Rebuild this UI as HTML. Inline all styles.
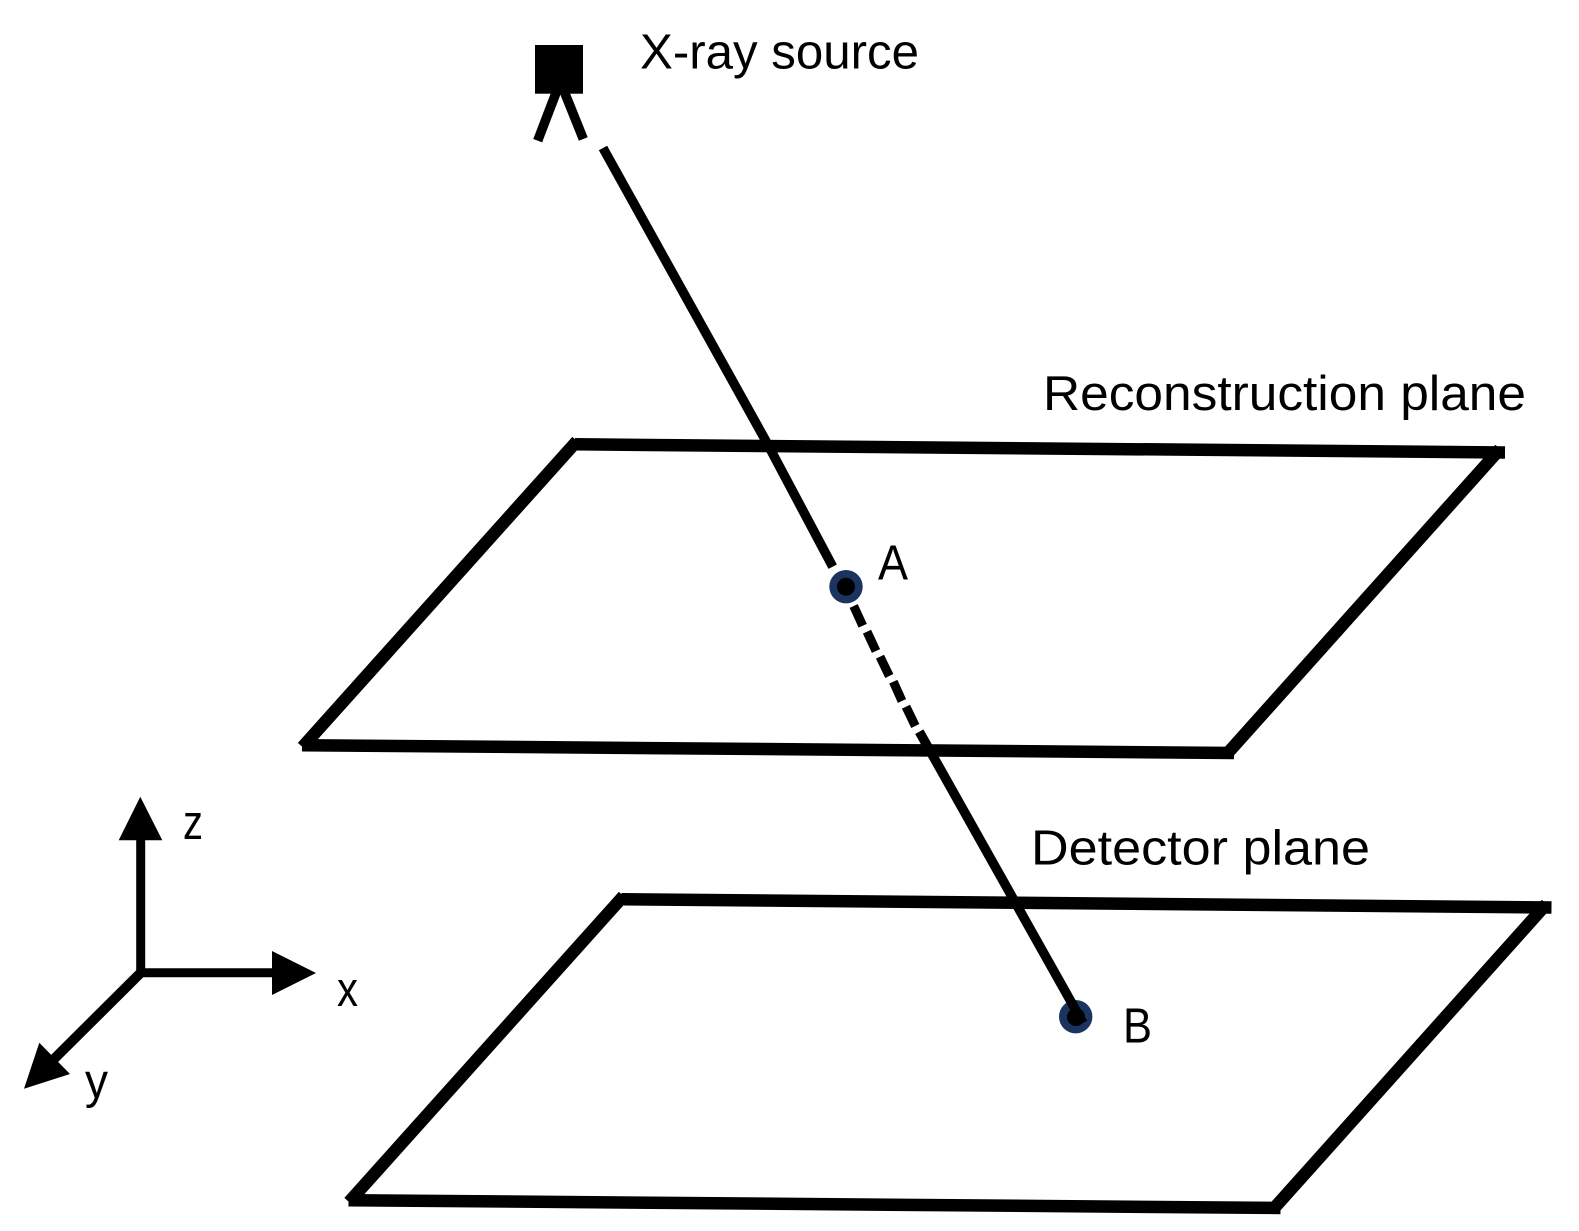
<!DOCTYPE html>
<html>
<head>
<meta charset="utf-8">
<style>
html,body{margin:0;padding:0;background:#fff;}
svg{display:block;}
text{font-family:"Liberation Sans",sans-serif;font-size:49px;fill:#000;}
</style>
</head>
<body>
<svg width="1579" height="1231" viewBox="0 0 1579 1231" xmlns="http://www.w3.org/2000/svg">
<rect width="1579" height="1231" fill="#fff"/>
<!-- reconstruction plane -->
<g stroke="#000" stroke-width="12.5">
<line x1="575" y1="444.3" x2="1505" y2="452.5"/>
<line x1="1500" y1="449" x2="1226" y2="755"/>
<line x1="1234" y1="753" x2="302" y2="745.2"/>
<line x1="302.5" y1="747" x2="577" y2="441"/>
</g>
<!-- detector plane -->
<g stroke="#000" stroke-width="12.5">
<line x1="621.5" y1="899.3" x2="1551.5" y2="907.5"/>
<line x1="1546.5" y1="904" x2="1272.5" y2="1210"/>
<line x1="1280.5" y1="1208" x2="348.5" y2="1200.2"/>
<line x1="349" y1="1202" x2="623.5" y2="896"/>
</g>
<!-- source -->
<rect x="535" y="45" width="48" height="48.7" fill="#000"/>
<line x1="556.7" y1="91" x2="537.7" y2="140.7" stroke="#000" stroke-width="9.5"/>
<line x1="564" y1="91" x2="583.3" y2="139" stroke="#000" stroke-width="9.5"/>
<!-- point A -->
<circle cx="846" cy="586.7" r="16.7" fill="#1b345f"/>
<circle cx="846" cy="586.7" r="9" fill="#000"/>
<!-- point B -->
<circle cx="1075.7" cy="1016.7" r="16.7" fill="#1b345f"/>
<circle cx="1076" cy="1017" r="9" fill="#000"/>
<!-- ray -->
<g stroke="#000" stroke-width="9.5" fill="none">
<polyline points="603,148 767,443 832.7,566.7"/>
<line x1="919.3" y1="731.7" x2="1083" y2="1023"/>
</g>
<g stroke="#000" stroke-width="9">
<line x1="853.7" y1="606" x2="862.7" y2="625.7"/>
<line x1="867" y1="631.7" x2="876" y2="651"/>
<line x1="880" y1="656.7" x2="889.3" y2="676"/>
<line x1="893.3" y1="681.7" x2="902" y2="701"/>
<line x1="906" y1="706.7" x2="915.3" y2="726"/>
</g>
<!-- axes -->
<g stroke="#000" fill="none">
<line x1="140.7" y1="838" x2="140.7" y2="977" stroke-width="9"/>
<line x1="137" y1="972.7" x2="274" y2="972.7" stroke-width="9"/>
<line x1="141" y1="972.5" x2="53" y2="1060" stroke-width="10"/>
</g>
<polygon points="140.3,796.7 118.7,840.3 162.3,840.3" fill="#000"/>
<polygon points="316,973 272,951 272,995" fill="#000"/>
<polygon points="24,1088.7 39.3,1042.7 70,1074" fill="#000"/>
<!-- labels -->
<text x="640" y="68.3" textLength="279" lengthAdjust="spacingAndGlyphs">X-ray source</text>
<text x="1043" y="410" textLength="483" lengthAdjust="spacingAndGlyphs">Reconstruction plane</text>
<text x="1031" y="864.3" textLength="339" lengthAdjust="spacingAndGlyphs">Detector plane</text>
<text x="878" y="579.3" textLength="30" lengthAdjust="spacingAndGlyphs">A</text>
<text x="1123" y="1042.7" textLength="29" lengthAdjust="spacingAndGlyphs">B</text>
<text x="183" y="839" textLength="20" lengthAdjust="spacingAndGlyphs">z</text>
<text x="337" y="1006" textLength="21" lengthAdjust="spacingAndGlyphs">x</text>
<text x="85" y="1098" textLength="23" lengthAdjust="spacingAndGlyphs">y</text>
</svg>
</body>
</html>
